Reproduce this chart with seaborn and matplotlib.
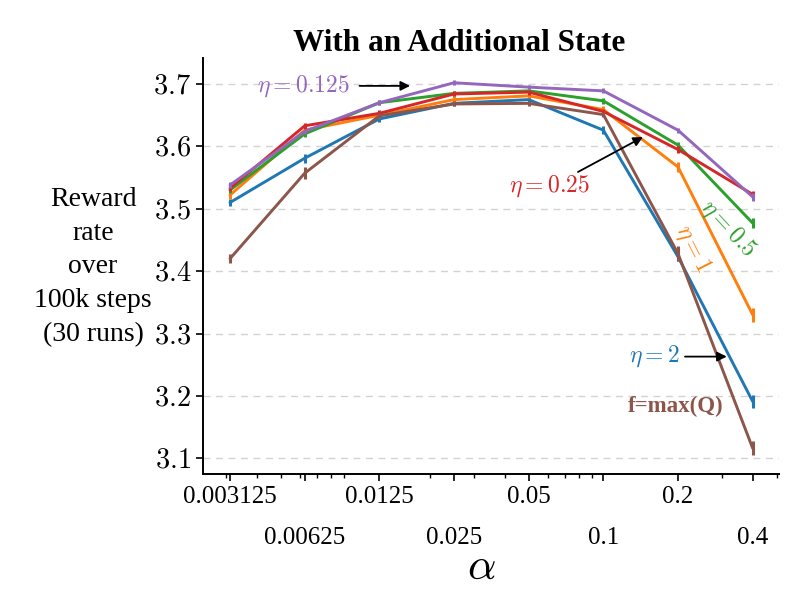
import numpy as np
import pandas as pd
import seaborn as sns
import matplotlib
matplotlib.use("Agg")
import matplotlib.pyplot as plt

# ---------------- data ----------------
alphas = [0.003125, 0.00625, 0.0125, 0.025, 0.05, 0.1, 0.2, 0.4]
alpha_labels = ["0.003125", "0.00625", "0.0125", "0.025", "0.05", "0.1", "0.2", "0.4"]

eta_2 = [3.510, 3.581, 3.644, 3.669, 3.675, 3.626, 3.423, 3.191]
eta_1 = [3.522, 3.626, 3.650, 3.675, 3.681, 3.659, 3.567, 3.330]
eta_05 = [3.530, 3.620, 3.670, 3.685, 3.689, 3.673, 3.602, 3.477]
eta_025 = [3.533, 3.633, 3.653, 3.684, 3.687, 3.656, 3.595, 3.523]
eta_0125 = [3.538, 3.624, 3.670, 3.702, 3.695, 3.689, 3.626, 3.519]
f_maxq = [3.420, 3.557, 3.649, 3.668, 3.669, 3.651, 3.428, 3.116]

err_2 = [0.006, 0.007, 0.005, 0.005, 0.004, 0.006, 0.007, 0.011]
err_1 = [0.006, 0.005, 0.004, 0.005, 0.004, 0.005, 0.008, 0.011]
err_05 = [0.005, 0.005, 0.004, 0.004, 0.003, 0.005, 0.005, 0.008]
err_025 = [0.005, 0.005, 0.005, 0.004, 0.004, 0.004, 0.006, 0.006]
err_0125 = [0.005, 0.004, 0.004, 0.004, 0.003, 0.004, 0.004, 0.006]
err_f = [0.007, 0.010, 0.004, 0.004, 0.004, 0.004, 0.012, 0.011]

series_names = ["eta=2", "eta=1", "eta=0.5", "eta=0.25", "eta=0.125", "f=max(Q)"]
series_values = [eta_2, eta_1, eta_05, eta_025, eta_0125, f_maxq]
series_errs = [err_2, err_1, err_05, err_025, err_0125, err_f]

yticks = [3.1, 3.2, 3.3, 3.4, 3.5, 3.6, 3.7]

# ---------------- style ----------------
sns.set_style("ticks")
plt.rcParams["font.family"] = ["Liberation Serif", "DejaVu Serif"]
plt.rcParams["mathtext.fontset"] = "cm"
for key in ["text.color", "axes.labelcolor", "xtick.color", "ytick.color", "axes.edgecolor"]:
    plt.rcParams[key] = "black"

palette = sns.color_palette("tab10", 6)
colors = dict(zip(series_names, palette))

rows = []
for name, vals in zip(series_names, series_values):
    for a, v in zip(alphas, vals):
        rows.append({"alpha": a, "reward": v, "series": name})
df = pd.DataFrame(rows)

fig = plt.figure(figsize=(7.89, 5.92), dpi=100)
ax = fig.add_axes([203 / 789, 1 - 474 / 592, 576 / 789, 416 / 592])

sns.lineplot(data=df, x="alpha", y="reward", hue="series", hue_order=series_names,
             palette=colors, linewidth=2.1, legend=False, ax=ax, errorbar=None)
for name, vals, errs in zip(series_names, series_values, series_errs):
    ax.errorbar(alphas, vals, yerr=errs, fmt="none", ecolor=colors[name],
                elinewidth=2.2, capsize=0)

ax.set_xscale("log")
ax.set_xlim(0.002432, 0.5106)
ax.set_ylim(3.0748, 3.7417)

ax.yaxis.grid(True, linestyle=(0, (5, 4)), color="#d3d3d3", linewidth=1.0)
ax.xaxis.grid(False)
sns.despine(ax=ax)
ax.tick_params(axis="both", which="major", length=5, width=1.2)
ax.tick_params(axis="x", which="minor", length=3, width=1.0)
for sp in ax.spines.values():
    sp.set_linewidth(1.4)

ax.set_xticks(alphas)
ax.set_xticklabels(alpha_labels, fontsize=18)
for i, tick in enumerate(ax.xaxis.get_major_ticks()):
    tick.set_pad(3.5 if i % 2 == 0 else 33.5)
ax.set_yticks(yticks)
ax.set_yticklabels([f"${v:.1f}$" for v in yticks], fontsize=20.5)

ax.set_xlabel(r"$\alpha$", fontsize=32, va="center")
ax.xaxis.set_label_coords(0.484, -0.226)
ax.set_ylabel("Reward\nrate\nover\n100k steps\n(30 runs)", rotation=0, fontsize=20,
              ha="center", va="center", linespacing=1.46)
ax.yaxis.set_label_coords(-0.191, 0.498)
ax.set_title("With an Additional State", fontsize=22.5, fontweight="bold", x=0.444, pad=3)

# ---------------- annotations ----------------
arrow = dict(arrowstyle="-|>", color="black", lw=1.3, shrinkA=0, shrinkB=0, mutation_scale=14)

ax.text(0.00616, 3.697, r"$\eta = 0.125$", color=colors["eta=0.125"], fontsize=17,
        ha="center", va="center")
ax.annotate("", xy=(0.01663, 3.697), xytext=(0.0104, 3.697), arrowprops=arrow)

ax.text(0.0609, 3.5365, r"$\eta = 0.25$", color=colors["eta=0.25"], fontsize=17,
        ha="center", va="center")
ax.annotate("", xy=(0.1444, 3.615), xytext=(0.079, 3.559), arrowprops=arrow)

ax.text(0.319, 3.4687, r"$\eta = 0.5$", color=colors["eta=0.5"], fontsize=17,
        rotation=-47, ha="center", va="center", rotation_mode="anchor")
ax.text(0.2293, 3.4367, r"$\eta = 1$", color=colors["eta=1"], fontsize=17,
        rotation=-63, ha="center", va="center", rotation_mode="anchor")

ax.text(0.16, 3.263, r"$\eta = 2$", color=colors["eta=2"], fontsize=17,
        ha="center", va="center")
ax.annotate("", xy=(0.3144, 3.263), xytext=(0.2134, 3.263), arrowprops=arrow)

ax.text(0.196, 3.183, "f=max(Q)", color=colors["f=max(Q)"], fontsize=16.5,
        fontweight="bold", ha="center", va="center")

fig.savefig("out.png", dpi=100)
